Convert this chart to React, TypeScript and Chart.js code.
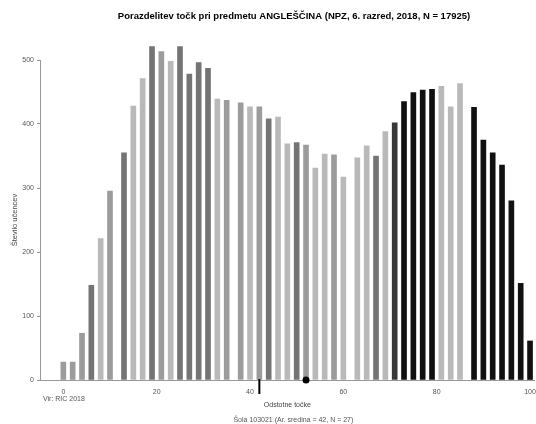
import { useEffect, useRef } from "react";
import { Chart, registerables } from "chart.js";

Chart.register(...registerables);

const TITLE = "Porazdelitev točk pri predmetu ANGLEŠČINA (NPZ, 6. razred, 2018, N = 17925)";
const Y_TITLE = "Število učencev";
const X_TITLE = "Odstotne točke";
const SOURCE = "Vir: RIC 2018";
const SCHOOL_NOTE = "Šola 103021 (Ar. sredina = 42, N = 27)";

// percentage points (categories of the histogram)
const SCORES = [
  0, 2, 4, 6, 8, 10, 13, 15, 17, 19, 21, 23, 25, 27, 29, 31, 33, 35, 38, 40,
  42, 44, 46, 48, 50, 52, 54, 56, 58, 60, 63, 65, 67, 69, 71, 73, 75, 77, 79,
  81, 83, 85, 88, 90, 92, 94, 96, 98, 100,
];

// number of students per score
const COUNTS = [
  28, 28, 73, 148, 221, 295, 355, 428, 471, 521, 513, 498, 521, 478, 496, 487,
  439, 437, 433, 427, 427, 408, 411, 369, 371, 367, 331, 353, 352, 317, 347,
  366, 350, 388, 402, 435, 449, 453, 454, 459, 427, 463, 426, 375, 355, 336,
  280, 151, 61,
];

const X_TICKS = [0, 20, 40, 60, 80, 100];
const Y_TICKS = [0, 100, 200, 300, 400, 500];

const SCHOOL_MEAN = 42;
const NATIONAL_MEAN = 52;

// shade of each bar (style only)
const BAR_SHADES = [
  "M", "M", "M", "D", "L", "M", "D", "L", "L", "D", "M", "L", "D", "D", "D", "D",
  "L", "M", "M", "L", "M", "D", "L", "L", "D", "M", "L", "L", "M", "L", "L",
  "L", "D", "L", "K", "B", "B", "B", "B", "L", "L", "L", "B", "B", "B", "B",
  "B", "B", "B",
];
const SHADE_COLORS: Record<string, string> = {
  L: "#b9b9b9",
  M: "#9c9c9c",
  D: "#747474",
  K: "#383838",
  B: "#111111",
};

const FONT = "'Liberation Sans', Arial, sans-serif";

const markerPlugin = {
  id: "markers",
  afterDatasetsDraw(chart: any) {
    const { ctx, scales, chartArea } = chart;
    const x = scales.x;
    const y = scales.y;
    const py = y.getPixelForValue(0);
    ctx.save();
    ctx.strokeStyle = "#000";
    ctx.lineWidth = 2;
    const sx = x.getPixelForValue(SCHOOL_MEAN);
    ctx.beginPath();
    ctx.moveTo(sx, py - 1);
    ctx.lineTo(sx, py + 14);
    ctx.stroke();
    const nx = x.getPixelForValue(NATIONAL_MEAN);
    ctx.fillStyle = "#000";
    ctx.beginPath();
    ctx.arc(nx, py, 3.5, 0, Math.PI * 2);
    ctx.fill();

    ctx.fillStyle = "#000";
    ctx.font = `bold 9.5px ${FONT}`;
    ctx.textBaseline = "middle";
    ctx.textAlign = "center";
    ctx.fillText(TITLE, 294, 16);

    ctx.fillStyle = "#555";
    ctx.font = `7px ${FONT}`;
    ctx.textAlign = "left";
    ctx.fillText(SOURCE, 43, 399);
    ctx.textAlign = "center";
    ctx.fillText(SCHOOL_NOTE, (chartArea.left + chartArea.right) / 2 + 6, 420);
    ctx.restore();
  },
};

export default function App() {
  const ref = useRef<HTMLCanvasElement | null>(null);

  useEffect(() => {
    if (!ref.current) return;
    const chart = new Chart(ref.current, {
      type: "bar",
      data: {
        datasets: [
          {
            data: SCORES.map((s, i) => ({ x: s, y: COUNTS[i] })),
            backgroundColor: BAR_SHADES.map((k) => SHADE_COLORS[k]),
            borderWidth: 0,
            barThickness: 5,
            clip: false as any,
          },
        ],
      },
      options: {
        responsive: false,
        animation: false,
        layout: { padding: { left: 0, right: 1.3, top: 60, bottom: 0 } },
        plugins: {
          legend: { display: false },
          tooltip: { enabled: false },
          title: { display: false },
        },
        scales: {
          x: {
            type: "linear",
            min: -5,
            max: 101,
            offset: false,
            grid: { display: false, drawTicks: false },
            border: { display: true, color: "#999", width: 1 },
            afterBuildTicks: (scale: any) => {
              scale.ticks = X_TICKS.map((v) => ({ value: v }));
            },
            afterFit: (scale: any) => {
              scale.height = 44;
              scale.paddingLeft = 0;
              scale.paddingRight = 0;
            },
            ticks: {
              autoSkip: false,
              maxRotation: 0,
              padding: 8,
              color: "#555",
              font: { family: FONT, size: 7 },
            },
            title: {
              display: true,
              text: X_TITLE,
              color: "#444",
              font: { family: FONT, size: 7 },
              padding: { top: 0, bottom: 14.8 },
            },
          },
          y: {
            min: 0,
            max: 500,
            grid: {
              display: true,
              drawOnChartArea: false,
              drawTicks: true,
              tickLength: 3,
              color: "#999",
            },
            border: { display: true, color: "#999", width: 1 },
            afterBuildTicks: (scale: any) => {
              scale.ticks = Y_TICKS.map((v) => ({ value: v }));
            },
            afterFit: (scale: any) => {
              scale.width = 40;
              scale.paddingTop = 0;
              scale.paddingBottom = 0;
            },
            ticks: {
              padding: 3,
              color: "#555",
              font: { family: FONT, size: 7 },
            },
            title: {
              display: true,
              text: Y_TITLE,
              color: "#444",
              font: { family: FONT, size: 7.5 },
              padding: { top: 10, bottom: 0 },
            },
          },
        },
      } as any,
      plugins: [markerPlugin],
    });
    return () => chart.destroy();
  }, []);

  return (
    <div style={{ position: "absolute", left: 0, top: 0, width: 536, height: 424, background: "#fff" }}>
      <canvas ref={ref} width={536} height={424} style={{ width: 536, height: 424, display: "block" }} />
    </div>
  );
}
